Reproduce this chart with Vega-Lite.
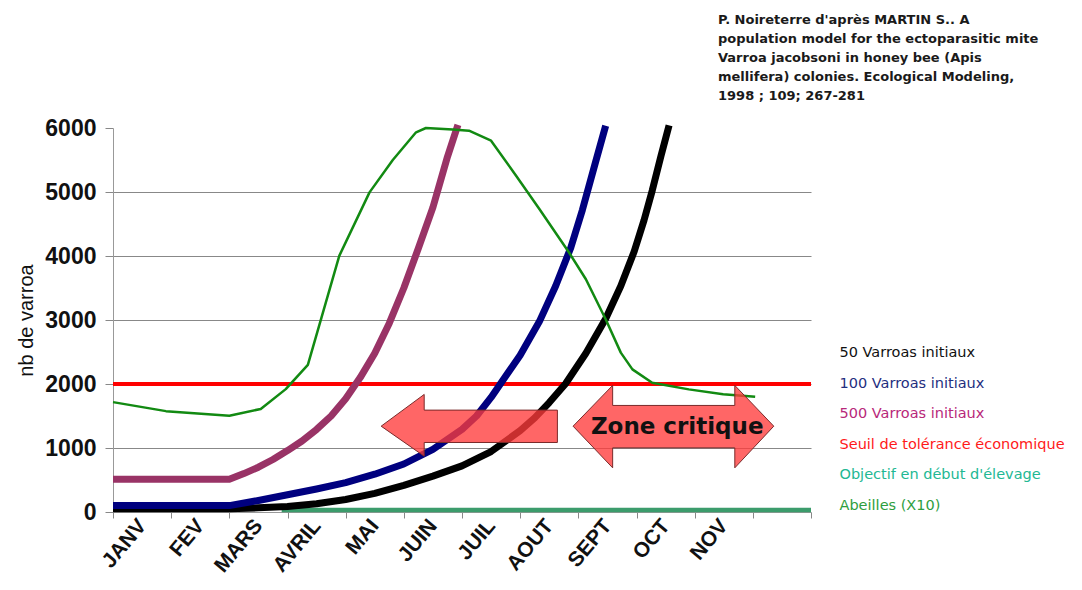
{
  "$schema": "https://vega.github.io/schema/vega-lite/v6.json",
  "width": 698,
  "height": 384,
  "autosize": "none",
  "padding": {"left": 113, "top": 128, "right": 271, "bottom": 78},
  "background": "white",
  "config": {"view": {"stroke": null}},
  "title": {
    "text": ["P. Noireterre d'après MARTIN S.. A", "population model for the ectoparasitic mite", "Varroa jacobsoni in honey bee (Apis", "mellifera) colonies. Ecological Modeling,", "1998 ; 109; 267-281"],
    "anchor": "start", "frame": "group", "dx": 605, "offset": 14,
    "font": "DejaVu Sans", "fontSize": 13, "fontWeight": "bold", "color": "#1a1a1a", "lineHeight": 19, "align": "left"
  },
  "encoding": {
    "x": {
      "field": "m", "type": "quantitative",
      "scale": {"domain": [0, 12], "nice": false, "zero": false},
      "axis": {
        "title": null,
        "values": [0, 0.5, 1, 1.5, 2, 2.5, 3, 3.5, 4, 4.5, 5, 5.5, 6, 6.5, 7, 7.5, 8, 8.5, 9, 9.5, 10, 10.5, 11, 11.5, 12],
        "labelExpr": "datum.value % 1 != 0 ? ['JANV','FEV','MARS','AVRIL','MAI','JUIN','JUIL','AOUT','SEPT','OCT','NOV',''][floor(datum.value)] : ''",
        "labelAngle": -50, "labelAlign": "right", "labelBaseline": "middle",
        "labelFont": "Liberation Sans", "labelFontSize": 21, "labelFontWeight": "bold", "labelColor": "#111111",
        "labelPadding": 4, "labelOverlap": false, "labelBound": false, "labelFlush": false,
        "tickSize": 6, "tickColor": "#888888",
        "tickOpacity": {"condition": {"test": "datum.value % 1 != 0", "value": 0}, "value": 1},
        "domainColor": "#999999", "grid": false
      }
    },
    "y": {
      "field": "v", "type": "quantitative",
      "scale": {"domain": [0, 6000], "nice": false},
      "axis": {
        "title": "nb de varroa", "titleFont": "Liberation Sans", "titleFontSize": 20, "titleFontWeight": "normal", "titleColor": "#111111", "titlePadding": 8,
        "values": [0, 1000, 2000, 3000, 4000, 5000, 6000], "format": "d",
        "labelFont": "Liberation Sans", "labelFontSize": 23, "labelFontWeight": "bold", "labelColor": "#111111", "labelPadding": 9,
        "tickSize": 8, "tickColor": "#888888", "domainColor": "#999999",
        "grid": true, "gridColor": "#888888",
        "gridOpacity": {"condition": {"test": "datum.value == 0 || datum.value == 6000", "value": 0}, "value": 1}
      }
    }
  },
  "layer": [
    {
      "data": {"values": [
        {"series": "Seuil de tolérance économique", "m": 0, "v": 2000},
        {"series": "Seuil de tolérance économique", "m": 12, "v": 2000},
        {"series": "Objectif en début d'élevage", "m": 2.9, "v": 30},
        {"series": "Objectif en début d'élevage", "m": 12, "v": 30},
        {"series": "50 Varroas initiaux", "m": 0, "v": 50},
        {"series": "50 Varroas initiaux", "m": 2, "v": 50},
        {"series": "50 Varroas initiaux", "m": 2.5, "v": 65},
        {"series": "50 Varroas initiaux", "m": 3, "v": 85},
        {"series": "50 Varroas initiaux", "m": 3.5, "v": 130},
        {"series": "50 Varroas initiaux", "m": 4, "v": 195},
        {"series": "50 Varroas initiaux", "m": 4.5, "v": 290},
        {"series": "50 Varroas initiaux", "m": 5, "v": 415},
        {"series": "50 Varroas initiaux", "m": 5.5, "v": 560},
        {"series": "50 Varroas initiaux", "m": 6, "v": 720},
        {"series": "50 Varroas initiaux", "m": 6.5, "v": 945},
        {"series": "50 Varroas initiaux", "m": 7, "v": 1270},
        {"series": "50 Varroas initiaux", "m": 7.25, "v": 1470},
        {"series": "50 Varroas initiaux", "m": 7.5, "v": 1710},
        {"series": "50 Varroas initiaux", "m": 7.78, "v": 2005},
        {"series": "50 Varroas initiaux", "m": 8.13, "v": 2480},
        {"series": "50 Varroas initiaux", "m": 8.47, "v": 3020},
        {"series": "50 Varroas initiaux", "m": 8.73, "v": 3530},
        {"series": "50 Varroas initiaux", "m": 8.96, "v": 4070},
        {"series": "50 Varroas initiaux", "m": 9.13, "v": 4560},
        {"series": "50 Varroas initiaux", "m": 9.27, "v": 5020},
        {"series": "50 Varroas initiaux", "m": 9.42, "v": 5560},
        {"series": "50 Varroas initiaux", "m": 9.56, "v": 6040},
        {"series": "100 Varroas initiaux", "m": 0, "v": 100},
        {"series": "100 Varroas initiaux", "m": 2, "v": 100},
        {"series": "100 Varroas initiaux", "m": 2.5, "v": 180},
        {"series": "100 Varroas initiaux", "m": 3, "v": 270},
        {"series": "100 Varroas initiaux", "m": 3.5, "v": 360},
        {"series": "100 Varroas initiaux", "m": 4, "v": 460},
        {"series": "100 Varroas initiaux", "m": 4.5, "v": 590},
        {"series": "100 Varroas initiaux", "m": 5, "v": 750},
        {"series": "100 Varroas initiaux", "m": 5.5, "v": 980},
        {"series": "100 Varroas initiaux", "m": 6, "v": 1290},
        {"series": "100 Varroas initiaux", "m": 6.25, "v": 1500},
        {"series": "100 Varroas initiaux", "m": 6.5, "v": 1790},
        {"series": "100 Varroas initiaux", "m": 6.75, "v": 2120},
        {"series": "100 Varroas initiaux", "m": 7, "v": 2450},
        {"series": "100 Varroas initiaux", "m": 7.33, "v": 2975},
        {"series": "100 Varroas initiaux", "m": 7.61, "v": 3530},
        {"series": "100 Varroas initiaux", "m": 7.87, "v": 4130},
        {"series": "100 Varroas initiaux", "m": 8.07, "v": 4720},
        {"series": "100 Varroas initiaux", "m": 8.3, "v": 5480},
        {"series": "100 Varroas initiaux", "m": 8.47, "v": 6036},
        {"series": "500 Varroas initiaux", "m": 0, "v": 510},
        {"series": "500 Varroas initiaux", "m": 2, "v": 510},
        {"series": "500 Varroas initiaux", "m": 2.25, "v": 600},
        {"series": "500 Varroas initiaux", "m": 2.5, "v": 700},
        {"series": "500 Varroas initiaux", "m": 2.75, "v": 820},
        {"series": "500 Varroas initiaux", "m": 3, "v": 960},
        {"series": "500 Varroas initiaux", "m": 3.25, "v": 1110},
        {"series": "500 Varroas initiaux", "m": 3.5, "v": 1290},
        {"series": "500 Varroas initiaux", "m": 3.75, "v": 1500},
        {"series": "500 Varroas initiaux", "m": 4, "v": 1770},
        {"series": "500 Varroas initiaux", "m": 4.25, "v": 2100},
        {"series": "500 Varroas initiaux", "m": 4.5, "v": 2480},
        {"series": "500 Varroas initiaux", "m": 4.75, "v": 2950},
        {"series": "500 Varroas initiaux", "m": 5, "v": 3500},
        {"series": "500 Varroas initiaux", "m": 5.25, "v": 4120},
        {"series": "500 Varroas initiaux", "m": 5.5, "v": 4760},
        {"series": "500 Varroas initiaux", "m": 5.75, "v": 5550},
        {"series": "500 Varroas initiaux", "m": 5.93, "v": 6050},
        {"series": "Abeilles (X10)", "m": 0, "v": 1717},
        {"series": "Abeilles (X10)", "m": 0.91, "v": 1576},
        {"series": "Abeilles (X10)", "m": 2, "v": 1505},
        {"series": "Abeilles (X10)", "m": 2.54, "v": 1610},
        {"series": "Abeilles (X10)", "m": 2.97, "v": 1920},
        {"series": "Abeilles (X10)", "m": 3.35, "v": 2300},
        {"series": "Abeilles (X10)", "m": 3.89, "v": 4002},
        {"series": "Abeilles (X10)", "m": 4.41, "v": 4994},
        {"series": "Abeilles (X10)", "m": 4.81, "v": 5500},
        {"series": "Abeilles (X10)", "m": 5.21, "v": 5933},
        {"series": "Abeilles (X10)", "m": 5.38, "v": 6000},
        {"series": "Abeilles (X10)", "m": 5.84, "v": 5975},
        {"series": "Abeilles (X10)", "m": 6.12, "v": 5958},
        {"series": "Abeilles (X10)", "m": 6.5, "v": 5801},
        {"series": "Abeilles (X10)", "m": 6.93, "v": 5254},
        {"series": "Abeilles (X10)", "m": 7.33, "v": 4733},
        {"series": "Abeilles (X10)", "m": 7.84, "v": 4055},
        {"series": "Abeilles (X10)", "m": 8.13, "v": 3637},
        {"series": "Abeilles (X10)", "m": 8.47, "v": 3011},
        {"series": "Abeilles (X10)", "m": 8.73, "v": 2490},
        {"series": "Abeilles (X10)", "m": 8.93, "v": 2229},
        {"series": "Abeilles (X10)", "m": 9.27, "v": 2020},
        {"series": "Abeilles (X10)", "m": 9.9, "v": 1916},
        {"series": "Abeilles (X10)", "m": 10.49, "v": 1840},
        {"series": "Abeilles (X10)", "m": 11.04, "v": 1800}
      ]},
      "mark": {"type": "line", "strokeCap": "butt", "strokeJoin": "round"},
      "encoding": {
        "color": {
          "field": "series", "type": "nominal",
          "scale": {
            "domain": ["50 Varroas initiaux", "100 Varroas initiaux", "500 Varroas initiaux", "Seuil de tolérance économique", "Objectif en début d'élevage", "Abeilles (X10)"],
            "range": ["#000000", "#00007F", "#993366", "#FF0000", "#3C9C6C", "#128A12"]
          },
          "legend": {
            "orient": "none", "legendX": 712, "legendY": 218, "title": null,
            "symbolSize": 0, "symbolStrokeWidth": 0, "symbolOpacity": 0, "labelOffset": 0,
            "labelFont": "DejaVu Sans", "labelFontSize": 14.5, "labelLimit": 400, "rowPadding": 15.5,
            "encode": {"labels": {"update": {"fill": {"signal": "['#111111','#1F2F80','#B8287A','#FF1A1A','#22B893','#2E9E3E'][datum.index]"}}}}
          }
        },
        "strokeWidth": {
          "condition": [
            {"test": "datum.series == 'Abeilles (X10)'", "value": 2.5},
            {"test": "indexof(datum.series, 'Seuil') == 0", "value": 4},
            {"test": "indexof(datum.series, 'Objectif') == 0", "value": 4.5}
          ],
          "value": 7
        }
      }
    },
    {
      "data": {"values": [
        {"arrow": "gauche", "i": 0, "m": 4.61, "v": 1341},
        {"arrow": "gauche", "i": 1, "m": 5.35, "v": 1837},
        {"arrow": "gauche", "i": 2, "m": 5.35, "v": 1592},
        {"arrow": "gauche", "i": 3, "m": 7.64, "v": 1592},
        {"arrow": "gauche", "i": 4, "m": 7.64, "v": 1086},
        {"arrow": "gauche", "i": 5, "m": 5.35, "v": 1086},
        {"arrow": "gauche", "i": 6, "m": 5.35, "v": 872},
        {"arrow": "double", "i": 0, "m": 7.91, "v": 1341},
        {"arrow": "double", "i": 1, "m": 8.59, "v": 1978},
        {"arrow": "double", "i": 2, "m": 8.59, "v": 1665},
        {"arrow": "double", "i": 3, "m": 10.69, "v": 1665},
        {"arrow": "double", "i": 4, "m": 10.69, "v": 1978},
        {"arrow": "double", "i": 5, "m": 11.36, "v": 1341},
        {"arrow": "double", "i": 6, "m": 10.69, "v": 690},
        {"arrow": "double", "i": 7, "m": 10.69, "v": 1003},
        {"arrow": "double", "i": 8, "m": 8.59, "v": 1003},
        {"arrow": "double", "i": 9, "m": 8.59, "v": 690}
      ]},
      "mark": {"type": "line", "interpolate": "linear-closed", "fill": "#FF3B3B", "fillOpacity": 0.78, "stroke": "#7A2A2A", "strokeWidth": 1, "strokeJoin": "miter"},
      "encoding": {
        "order": {"field": "i", "type": "quantitative"},
        "detail": {"field": "arrow", "type": "nominal"}
      }
    },
    {
      "data": {"values": [{"m": 9.7, "v": 1322, "label": "Zone critique"}]},
      "mark": {"type": "text", "font": "DejaVu Sans", "fontSize": 23, "fontWeight": "bold", "color": "#111111", "align": "center", "baseline": "middle"},
      "encoding": {"text": {"field": "label", "type": "nominal"}}
    }
  ]
}
